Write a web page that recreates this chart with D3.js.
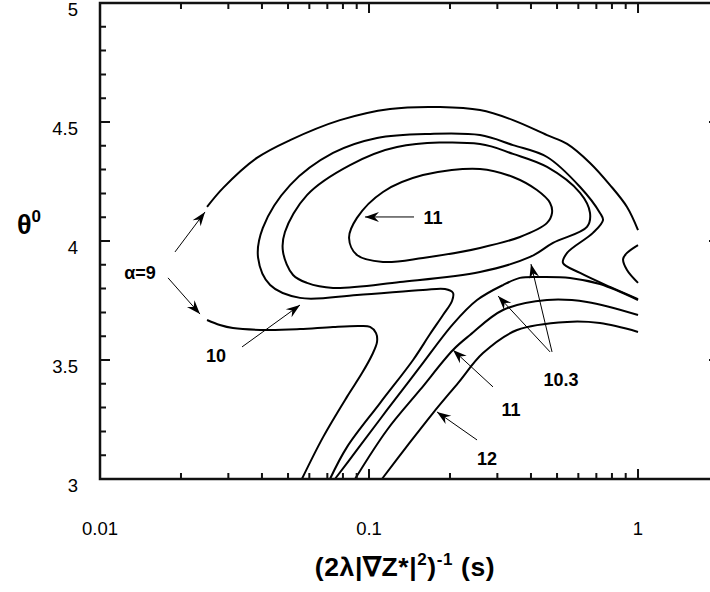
<!DOCTYPE html>
<html>
<head>
<meta charset="utf-8">
<script src="https://cdn.jsdelivr.net/npm/d3@7"></script>
<style>
  body { margin: 0; background: #fff; }
  svg { display: block; font-family: "Liberation Sans", Arial, Helvetica, sans-serif; }
</style>
</head>
<body>
<svg id="chart"></svg>
<script>
// Contour lines of alpha, points are [x (s), theta0]
const alpha9Top = [[0.0250,4.143],[0.0287,4.223],[0.0383,4.349],[0.0509,4.424],[0.0780,4.508],[0.1197,4.555],
  [0.1837,4.563],[0.2586,4.550],[0.343,4.508],[0.459,4.445],[0.545,4.408],[0.663,4.328],[0.787,4.235],[0.910,4.143],[1.0,4.046]];
const alpha9Low = [[0.0250,3.668],[0.0279,3.647],[0.0312,3.634],[0.0418,3.626],[0.0554,3.630],[0.0735,3.639],[0.0926,3.643],
  [0.1009,3.639],[0.1062,3.613],[0.1071,3.576],[0.1026,3.521],[0.0942,3.445],[0.0828,3.345],[0.0675,3.176],[0.0563,3.0]];
const alpha10 = [[1.0,3.756],[0.787,3.807],[0.609,3.866],[0.526,3.908],[0.545,3.950],[0.680,4.034],[0.741,4.088],[0.722,4.118],
  [0.609,4.227],[0.459,4.353],[0.343,4.403],[0.2586,4.445],[0.1686,4.450],[0.1071,4.433],[0.0735,4.370],[0.0509,4.235],
  [0.0403,4.055],[0.0387,3.929],[0.0429,3.815],[0.0554,3.761],[0.0902,3.773],[0.1587,3.794],[0.1916,3.798],[0.2052,3.782],
  [0.2035,3.748],[0.1884,3.689],[0.1686,3.609],[0.1458,3.500],[0.1099,3.319],[0.0828,3.134],[0.0716,3.0]];
const alpha10Edge = [[1.0,3.983],[0.910,3.950],[0.880,3.924],[0.910,3.878],[1.0,3.824]];
const alpha103Loop = [[0.2586,4.408],[0.343,4.366],[0.459,4.311],[0.609,4.202],[0.663,4.118],[0.646,4.059],[0.483,3.992],
  [0.397,3.933],[0.2586,3.870],[0.1303,3.828],[0.0735,3.803],[0.0588,3.824],[0.0522,3.857],[0.0479,3.954],[0.0487,4.038],
  [0.0588,4.193],[0.0850,4.319],[0.1271,4.395]];
const alpha11Loop = [[0.2586,4.303],[0.343,4.269],[0.421,4.214],[0.471,4.160],[0.479,4.118],[0.459,4.076],[0.364,4.017],
  [0.2586,3.971],[0.1587,3.929],[0.1127,3.912],[0.0902,3.941],[0.0843,4.013],[0.0902,4.097],[0.1127,4.206],[0.1587,4.277]];
const alpha103Band = [[1.0,3.752],[0.722,3.819],[0.559,3.845],[0.432,3.849],[0.364,3.845],[0.3148,3.815],[0.2521,3.752],
  [0.2052,3.651],[0.1547,3.471],[0.1167,3.290],[0.0902,3.122],[0.0747,3.0]];
const alpha11Band = [[1.0,3.689],[0.646,3.744],[0.459,3.752],[0.3148,3.710],[0.2374,3.605],[0.2052,3.542],[0.1547,3.374],
  [0.1167,3.206],[0.0887,3.0]];
const alpha12Band = [[1.0,3.618],[0.722,3.655],[0.545,3.660],[0.355,3.626],[0.2653,3.529],[0.2142,3.403],[0.1729,3.277],
  [0.1396,3.143],[0.1117,3.0]];

// Annotations: arrows [xTail, thTail, xTip, thTip] and labels [text, x, theta]
const arrows = [[0.0190,3.954,0.02457,4.122],[0.0179,3.845,0.02353,3.693],[0.03373,3.555,0.0554,3.731],
  [0.1470,4.101,0.0966,4.101],[0.471,3.534,0.3018,3.769],[0.479,3.534,0.400,3.903],
  [0.289,3.387,0.2052,3.542],[0.2521,3.164,0.1789,3.282]];
const labels = [["α=9",0.01408,3.866],["10",0.0270,3.517],["11",0.1729,4.097],["10.3",0.517,3.420],
  ["11",0.3373,3.294],["12",0.2746,3.084]];

const xTickLabels = [0.01, 0.1, 1];
const yTickLabels = [3, 3.5, 4, 4.5, 5];

const width = 710, height = 592;
const svg = d3.select("#chart").attr("width", width).attr("height", height);

const x = d3.scaleLog().domain([0.01, 2]).range([100, 719]);
const y = d3.scaleLinear().domain([3, 5]).range([479, 3]);

// arrow head
svg.append("defs").append("marker")
    .attr("id", "head")
    .attr("markerUnits", "userSpaceOnUse")
    .attr("viewBox", "-15 -6 17 12")
    .attr("refX", 0).attr("refY", 0)
    .attr("markerWidth", 17).attr("markerHeight", 12)
    .attr("orient", "auto")
  .append("path")
    .attr("d", "M0,0 L-14,-5 L-9.5,0 L-14,5 Z")
    .attr("fill", "#000");

// contours
const line = d3.line().x(d => x(d[0])).y(d => y(d[1])).curve(d3.curveCatmullRom.alpha(0.5));
const loop = d3.line().x(d => x(d[0])).y(d => y(d[1])).curve(d3.curveCatmullRomClosed.alpha(0.5));

const g = svg.append("g").attr("fill", "none").attr("stroke", "#000").attr("stroke-width", 2);
[alpha9Top, alpha9Low, alpha10, alpha10Edge, alpha103Band, alpha11Band, alpha12Band].forEach(c => {
    g.append("path").attr("d", line(c));
});
[alpha103Loop, alpha11Loop].forEach(c => {
    g.append("path").attr("d", loop(c));
});

// arrows
svg.append("g").selectAll("line")
    .data(arrows)
    .join("line")
    .attr("x1", d => x(d[0])).attr("y1", d => y(d[1]))
    .attr("x2", d => x(d[2])).attr("y2", d => y(d[3]))
    .attr("stroke", "#000").attr("stroke-width", 1)
    .attr("marker-end", "url(#head)");

svg.append("g").selectAll("text")
    .data(labels)
    .join("text")
    .attr("x", d => x(d[1])).attr("y", d => y(d[2]))
    .attr("dy", "0.36em")
    .attr("text-anchor", "middle")
    .attr("font-size", 18).attr("font-weight", "bold")
    .text(d => d[0]);

// frame and ticks (inward, on all four sides)
const axisG = svg.append("g").attr("stroke", "#111");
axisG.append("rect")
    .attr("x", 100).attr("y", 3).attr("width", 619).attr("height", 476)
    .attr("fill", "none").attr("stroke-width", 2.5);

const xTicks = x.ticks();
const isMajorX = v => Math.abs(Math.log10(v) - Math.round(Math.log10(v))) < 1e-6;
axisG.selectAll(".xt")
    .data(xTicks)
    .join("path")
    .attr("stroke-width", 2)
    .attr("d", d => {
        const px = x(d), len = isMajorX(d) ? 10 : 6;
        return `M${px},479v${-len}M${px},3v${len}`;
    });

const yTicks = d3.range(30, 51).map(v => v / 10);
const isMajorY = v => Math.abs(v * 2 - Math.round(v * 2)) < 1e-6;
axisG.selectAll(".yt")
    .data(yTicks)
    .join("path")
    .attr("stroke-width", 2)
    .attr("d", d => {
        const py = y(d), len = isMajorY(d) ? 10 : 6;
        return `M100,${py}h${len}M719,${py}h${-len}`;
    });

// tick labels
svg.append("g").selectAll("text")
    .data(xTickLabels)
    .join("text")
    .attr("x", d => x(d)).attr("y", 535)
    .attr("text-anchor", "middle")
    .attr("font-size", 18.5)
    .text(d => d);

svg.append("g").selectAll("text")
    .data(yTickLabels)
    .join("text")
    .attr("x", 78).attr("y", d => y(d) + 13)
    .attr("text-anchor", "end")
    .attr("font-size", 18.5)
    .text(d => d);

// axis titles
const xt = svg.append("text")
    .attr("x", 405).attr("y", 576)
    .attr("text-anchor", "middle")
    .attr("letter-spacing", 0.6)
    .attr("font-size", 26.5).attr("font-weight", "bold");
xt.append("tspan").text("(2λ|∇Z*|");
xt.append("tspan").attr("dy", -11).attr("font-size", 17).text("2");
xt.append("tspan").attr("dy", 11).text(")");
xt.append("tspan").attr("dy", -11).attr("font-size", 17).text("-1");
xt.append("tspan").attr("dy", 11).text(" (s)");

const yt = svg.append("text")
    .attr("x", 17).attr("y", 234)
    .attr("font-size", 27).attr("font-weight", "bold");
yt.append("tspan").text("θ");
yt.append("tspan").attr("dy", -12).attr("font-size", 17).text("0");
</script>
</body>
</html>
